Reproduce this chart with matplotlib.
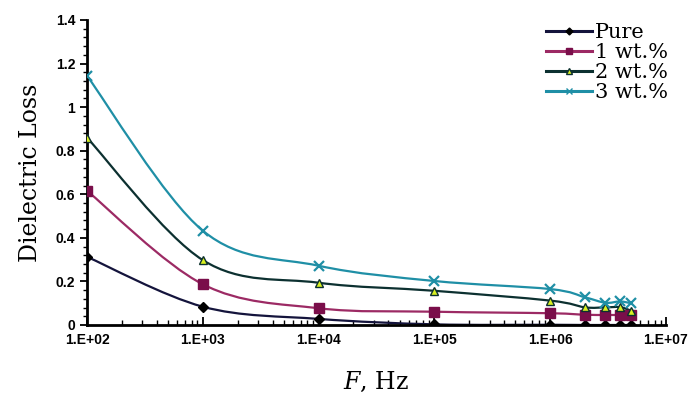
import matplotlib
matplotlib.use("Agg")
import matplotlib.pyplot as plt
import numpy as np
from matplotlib.path import Path
from matplotlib.patches import PathPatch
from matplotlib.ticker import FixedLocator, MultipleLocator, LogLocator, NullFormatter

plt.rcParams["mathtext.fontset"] = "dejavuserif"

# frequency (Hz)
freq = [1e2, 1e3, 1e4, 1e5, 1e6, 2e6, 3e6, 4e6, 5e6]

# dielectric loss per composition
pure = [0.313, 0.084, 0.028, 0.003, 0.001, 0.0, 0.0, 0.0, 0.0]
wt1 = [0.616, 0.187, 0.077, 0.061, 0.054, 0.047, 0.046, 0.046, 0.046]
wt2 = [0.86, 0.298, 0.194, 0.157, 0.112, 0.081, 0.081, 0.082, 0.066]
wt3 = [1.144, 0.433, 0.272, 0.202, 0.165, 0.127, 0.102, 0.108, 0.100]

labels = ["Pure", "1 wt.%", "2 wt.%", "3 wt.%"]
xticklabels = ["1.E+02", "1.E+03", "1.E+04", "1.E+05", "1.E+06", "1.E+07"]


def smooth_path(x, y):
    # Excel-style smoothed line: Catmull-Rom curve as cubic Bezier segments (log-x)
    lx = np.log10(x)
    y = np.asarray(y, float)
    n = len(lx)
    verts = [(x[0], y[0])]
    codes = [Path.MOVETO]
    for i in range(n - 1):
        p0 = i - 1 if i > 0 else i
        p3 = i + 2 if i + 2 < n else i + 1
        c1x = lx[i] + (lx[i + 1] - lx[p0]) / 6.0
        c1y = y[i] + (y[i + 1] - y[p0]) / 6.0
        c2x = lx[i + 1] - (lx[p3] - lx[i]) / 6.0
        c2y = y[i + 1] - (y[p3] - y[i]) / 6.0
        verts += [(10 ** c1x, c1y), (10 ** c2x, c2y), (x[i + 1], y[i + 1])]
        codes += [Path.CURVE4] * 3
    return Path(verts, codes)


fig = plt.figure(figsize=(6.92, 3.96), dpi=100)
ax = fig.add_axes([0.1257, 0.1793, 0.8367, 0.7702])

series = [
    (pure, "#14143c", "D", 5, "#000000", "#000000"),
    (wt1, "#9c2a64", "s", 7, "#7a0e4a", "#7a0e4a"),
    (wt2, "#0c3030", "^", 6, "#d8f020", "#0c3030"),
    (wt3, "#1f8fa6", "x", 7, "#1f8fa6", "#1f8fa6"),
]

for (vals, lc, mk, ms, mfc, mec), lab in zip(series, labels):
    ax.add_patch(PathPatch(smooth_path(freq, vals), facecolor="none",
                           edgecolor=lc, lw=1.6, zorder=2))
    ax.plot(freq, vals, linestyle="none", marker=mk, ms=ms, mfc=mfc,
            mec=mec, mew=1.6 if mk == "x" else 1.0, zorder=3)
    ax.plot([], [], color=lc, lw=2.2, marker=mk, ms=ms * 0.7, mfc=mfc,
            mec=mec, label=lab)

ax.set_xscale("log")
ax.set_xlim(1e2, 1e7)
ax.set_ylim(0, 1.4)

ax.xaxis.set_major_locator(FixedLocator([1e2, 1e3, 1e4, 1e5, 1e6, 1e7]))
ax.set_xticklabels(xticklabels)
ax.xaxis.set_minor_locator(LogLocator(base=10, subs=np.arange(2, 10)))
ax.xaxis.set_minor_formatter(NullFormatter())
ax.yaxis.set_minor_locator(MultipleLocator(0.04))
ax.set_yticks([0, 0.2, 0.4, 0.6, 0.8, 1.0, 1.2, 1.4])
ax.set_yticklabels(["0", "0.2", "0.4", "0.6", "0.8", "1", "1.2", "1.4"])

for lab in ax.get_xticklabels() + ax.get_yticklabels():
    lab.set_fontfamily("Liberation Sans")
    lab.set_fontweight("bold")
    lab.set_fontsize(10)

ax.tick_params(axis="x", which="major", direction="in", length=6, width=1.3, pad=6)
ax.tick_params(axis="x", which="minor", direction="in", length=3.5, width=1.0)
ax.tick_params(axis="y", which="major", direction="out", length=5, width=1.3)
ax.tick_params(axis="y", which="minor", direction="out", length=3, width=1.0)

for s in ["top", "right"]:
    ax.spines[s].set_visible(False)
for s in ["left", "bottom"]:
    ax.spines[s].set_linewidth(2.0)

ax.set_ylabel("Dielectric Loss", fontfamily="DejaVu Serif", fontsize=17, labelpad=10)
ax.set_xlabel("$F$, Hz", fontfamily="DejaVu Serif", fontsize=17, labelpad=16)

leg = ax.legend(loc="upper right", bbox_to_anchor=(1.025, 1.03), frameon=False,
                prop={"family": "DejaVu Serif", "size": 15}, handlelength=2.2,
                handletextpad=0.15, labelspacing=0.05, borderaxespad=0.2)

fig.savefig("out.png", dpi=100)
